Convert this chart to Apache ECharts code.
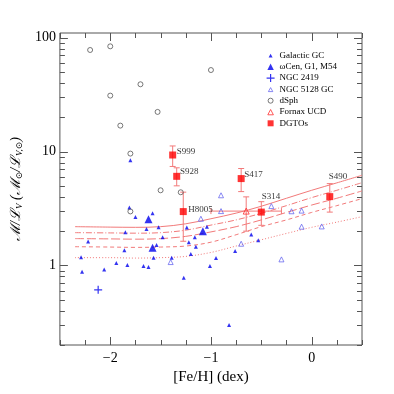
<!DOCTYPE html>
<html><head><meta charset="utf-8">
<script src="https://cdn.jsdelivr.net/npm/echarts@6/dist/echarts.min.js"></script>
<style>html,body{margin:0;padding:0;background:#fff}#c{width:394px;height:394px}</style>
</head><body><div id="c"></div>
<script>
// ---- data ----
const galacticGC = [[-1.80,8.4],[-1.81,3.22],[-1.75,2.66],[-1.58,2.87],[-1.85,1.96],[-1.64,2.09],[-1.52,2.16],[-1.48,1.77],
  [-2.22,1.62],[-1.86,1.36],[-1.54,1.51],[-2.29,1.18],[-1.57,1.17],[-1.39,1.17],[-1.94,1.05],[-1.83,1.01],[-1.67,0.99],
  [-1.62,0.97],[-2.28,0.88],[-2.06,0.92],[-1.27,0.78],[-1.24,2.15],[-1.22,1.60],[-1.16,1.77],[-1.15,1.46],[-1.20,1.26],
  [-1.04,2.19],[-0.60,1.87],[-0.53,1.66],[-0.76,1.34],[-0.95,1.16],[-1.01,0.99],[-0.82,0.30]];
const omegaCenG1M54 = [[-1.62,2.54],[-1.58,1.43],[-1.08,2.0]];
const ngc2419 = [[-2.12,0.61]];
const ngc5128GC = [[-1.40,1.07],[-1.10,2.57],[-0.90,4.13],[-0.90,3.0],[-0.70,1.55],[-0.30,1.13],[-0.40,3.32],
  [-0.20,2.99],[-0.10,3.03],[-0.10,2.19],[0.10,2.2]];
const dSph = [[-2.20,78],[-2.0,84],[-1.0,52],[-1.70,39],[-2.0,31],[-1.53,22.3],[-1.90,16.9],[-1.80,9.6],[-1.50,4.57],[-1.30,4.39],[-1.80,2.98]];
// Fornax UCD: [FeH, M/L, M/L low, M/L high, FeH low, FeH high]
const fornaxUCD = [[-0.65,3.0,2.0,4.0,-1.0,-0.30]];
// DGTOs
const dgtoNames = ['S999','S928','H8005','S417','S314','S490'];
const dgtoFeH   = [-1.38,-1.34,-1.275,-0.70,-0.50,0.18];
const dgtoML    = [9.33,6.06,2.97,5.79,2.94,4.02];
const dgtoLow   = [7.4,5.0,1.63,4.45,2.25,2.94];
const dgtoHigh  = [11.2,7.2,4.4,7.1,3.63,5.23];
// model curves
const modelFeH = [-2.35,-2.0,-1.75,-1.5,-1.25,-1.0,-0.75,-0.5,-0.25,0,0.25,0.5];
const modelA = [2.19,2.17,2.16,2.19,2.32,2.57,2.88,3.31,3.89,4.57,5.31,6.19];
const modelB = [1.94,1.93,1.92,1.94,2.04,2.26,2.51,2.87,3.35,3.94,4.57,5.33];
const modelC = [1.72,1.71,1.70,1.72,1.80,1.97,2.19,2.51,2.92,3.39,3.89,4.51];
const modelD = [1.46,1.45,1.44,1.45,1.48,1.60,1.86,2.19,2.51,2.92,3.35,3.86];
const modelE = [1.17,1.17,1.16,1.17,1.20,1.30,1.48,1.68,1.91,2.16,2.40,2.68];
// axes
const xRange = [-2.5, 0.5];
const yRange = [0.2, 110];
const xTickLabels = [-2,-1,0];
const yTickLabels = [1,10,100];

// ---- styles ----
const SERIF = 'Liberation Serif, DejaVu Serif, serif';
const RED_LINE = '#f27a7a';
const labelOffset = {S999:[7.5,-4.4],S928:[6.9,-5.7],H8005:[8.5,-3],S417:[6.5,-5.3],S314:[3.9,-16.4],S490:[2.5,-20.6]};

const xMinorTicks = [];
for (let v = -2.5; v <= 0.5001; v += 0.25) xMinorTicks.push(+v.toFixed(2));
const yMinorTicks = [];
for (let e = -1; e <= 2; e++) for (let m = 1; m <= 9; m++) { const v = m*Math.pow(10,e); if (v >= yRange[0]-1e-9 && v <= yRange[1]) yMinorTicks.push(+v.toPrecision(3)); }

function zipModel(arr){ return modelFeH.map((x,i)=>[x,arr[i]]); }
const modelStyles = [
  {d:modelA, t:'solid'},{d:modelB, t:[6,2,1,2]},{d:modelC, t:[9,3]},{d:modelD, t:[4,3]},{d:modelE, t:[1,2]}
];

const chart = echarts.init(document.getElementById('c'), null, {renderer:'canvas'});
const series = [];
modelStyles.forEach((m,i)=>{
  series.push({type:'line', name:'model'+i, data:zipModel(m.d), showSymbol:false, smooth:0.35, silent:true,
    lineStyle:{color:RED_LINE, width:1, type:m.t}, z:1});
});
series.push({type:'scatter', name:'Galactic GC', data:galacticGC, symbol:'triangle', symbolSize:4,
  itemStyle:{color:'#0000ee'}, z:3});
series.push({type:'scatter', name:'ωCen, G1, M54', data:omegaCenG1M54, symbol:'triangle', symbolSize:8,
  itemStyle:{color:'#0000ee'}, z:3});
series.push({type:'scatter', name:'NGC 2419', data:ngc2419, symbol:'path://M0,5L10,5M5,0L5,10', symbolSize:8,
  itemStyle:{color:'rgba(0,0,0,0)', borderColor:'#0000ee', borderWidth:1.2}, z:3});
series.push({type:'scatter', name:'NGC 5128 GC', data:ngc5128GC, symbol:'triangle', symbolSize:5,
  itemStyle:{color:'rgba(0,0,0,0)', borderColor:'#5a5aee', borderWidth:0.9}, z:3});
series.push({type:'scatter', name:'dSph', data:dSph, symbol:'circle', symbolSize:5,
  itemStyle:{color:'rgba(0,0,0,0)', borderColor:'#444', borderWidth:0.9}, z:3});
// error bars
function errRender(params, api){
  const x = api.value(0), lo = api.value(2), hi = api.value(3);
  const p1 = api.coord([x, lo]), p2 = api.coord([x, hi]);
  const st = {stroke:RED_LINE, lineWidth:1};
  const ch = [
    {type:'line', shape:{x1:p1[0],y1:p1[1],x2:p2[0],y2:p2[1]}, style:st},
    {type:'line', shape:{x1:p1[0]-3,y1:p1[1],x2:p1[0]+3,y2:p1[1]}, style:st},
    {type:'line', shape:{x1:p2[0]-3,y1:p2[1],x2:p2[0]+3,y2:p2[1]}, style:st}
  ];
  if (api.value(4) !== undefined && !isNaN(api.value(4))) {
    const y = api.value(1);
    const q1 = api.coord([api.value(4), y]), q2 = api.coord([api.value(5), y]);
    ch.push({type:'line', shape:{x1:q1[0],y1:q1[1],x2:q2[0],y2:q2[1]}, style:st});
    ch.push({type:'line', shape:{x1:q1[0],y1:q1[1]-3,x2:q1[0],y2:q1[1]+3}, style:st});
    ch.push({type:'line', shape:{x1:q2[0],y1:q2[1]-3,x2:q2[0],y2:q2[1]+3}, style:st});
  }
  return {type:'group', children:ch};
}
series.push({type:'custom', name:'dgtoErr', data:dgtoFeH.map((x,i)=>[x,dgtoML[i],dgtoLow[i],dgtoHigh[i]]),
  renderItem:errRender, encode:{x:0,y:1}, silent:true, z:2});
series.push({type:'custom', name:'fornaxErr', data:fornaxUCD, renderItem:errRender,
  encode:{x:0,y:1}, dimensions:['x','y','lo','hi','xl','xh'], silent:true, z:2});
series.push({type:'scatter', name:'Fornax UCD', data:fornaxUCD.map(d=>[d[0],d[1]]), symbol:'triangle', symbolSize:6,
  itemStyle:{color:'rgba(255,255,255,0)', borderColor:'#ff3030', borderWidth:1}, z:4});
series.push({type:'scatter', name:'DGTOs', symbol:'rect', symbolSize:7, itemStyle:{color:'#ff0000'}, z:5,
  data:dgtoNames.map((n,i)=>({name:n, value:[dgtoFeH[i], dgtoML[i]],
    label:{show:true, position:labelOffset[n], formatter:'{b}', fontFamily:SERIF, fontSize:9, color:'#000'}}))});
// ticks on all four sides
series.push({type:'custom', name:'ticks', data:[[-1,1]], encode:{x:0,y:1}, silent:true, clip:false, z:10,
  renderItem:function(params, api){
    const bl = api.coord([xRange[0], yRange[0]]), tr = api.coord([xRange[1], yRange[1]]);
    const st = {stroke:'#555', lineWidth:1};
    const ch = [];
    xMinorTicks.forEach(v=>{
      const px = Math.round(api.coord([v, yRange[0]])[0]) + 0.5;
      const len = xTickLabels.indexOf(v) >= 0 ? 8 : 5;
      ch.push({type:'line', shape:{x1:px,y1:bl[1],x2:px,y2:bl[1]-len}, style:st});
      ch.push({type:'line', shape:{x1:px,y1:tr[1],x2:px,y2:tr[1]+len}, style:st});
    });
    yMinorTicks.forEach(v=>{
      const py = Math.round(api.coord([xRange[0], v])[1]) + 0.5;
      const len = yTickLabels.indexOf(v) >= 0 ? 8 : 5;
      ch.push({type:'line', shape:{x1:bl[0],y1:py,x2:bl[0]+len,y2:py}, style:st});
      ch.push({type:'line', shape:{x1:tr[0],y1:py,x2:tr[0]-len,y2:py}, style:st});
    });
    return {type:'group', children:ch};
  }});

const legendIcons = {
  'Galactic GC':{icon:'path://M0,0M8,8M2,6L4,2.2L6,6Z', itemStyle:{color:'#0000ee', borderWidth:0}},
  'ωCen, G1, M54':{icon:'path://M0,0M8,8M0.8,7.2L4,0.8L7.2,7.2Z', itemStyle:{color:'#0000ee', borderWidth:0}},
  'NGC 2419':{icon:'path://M0,4L8,4M4,0L4,8', itemStyle:{color:'rgba(0,0,0,0)', borderColor:'#0000ee', borderWidth:1.2}},
  'NGC 5128 GC':{icon:'path://M0,0M8,8M1.8,6.2L4,2.2L6.2,6.2Z', itemStyle:{color:'rgba(0,0,0,0)', borderColor:'#5a5aee', borderWidth:0.9}},
  'dSph':{icon:'path://M0,0M8,8M6.5,4A2.5,2.5,0,1,1,1.5,4A2.5,2.5,0,1,1,6.5,4Z', itemStyle:{color:'rgba(0,0,0,0)', borderColor:'#444', borderWidth:0.9}},
  'Fornax UCD':{icon:'path://M0,0M8,8M1.2,6.8L4,1.5L6.8,6.8Z', itemStyle:{color:'rgba(0,0,0,0)', borderColor:'#ff3030', borderWidth:1}},
  'DGTOs':{icon:'path://M0,0M8,8M1,1L7,1L7,7L1,7Z', itemStyle:{color:'#ff0000', borderWidth:0}}
};

chart.setOption({
  animation:false,
  backgroundColor:'#fff',
  grid:{left:48, top:33, right:32, bottom:49, show:true, borderColor:'#555', borderWidth:1, backgroundColor:'transparent'},
  legend:{orient:'vertical', left:261, top:45.5, itemWidth:8, itemHeight:8, itemGap:1.3,
    textStyle:{fontFamily:SERIF, fontSize:9, color:'#000', lineHeight:10},
    data:Object.keys(legendIcons).map(n=>Object.assign({name:n}, legendIcons[n]))},
  xAxis:{type:'value', min:xRange[0], max:xRange[1], interval:0.25,
    axisLine:{show:false}, axisTick:{show:false}, splitLine:{show:false},
    axisLabel:{fontFamily:SERIF, fontSize:14, color:'#000', margin:6,
      formatter:v=> xTickLabels.indexOf(v)>=0 ? (v<0 ? '\u2212'+Math.abs(v) : String(v)) : ''},
    name:'[Fe/H] (dex)', nameLocation:'middle', nameGap:22,
    nameTextStyle:{fontFamily:SERIF, fontSize:15, color:'#000'}},
  yAxis:{type:'log', logBase:10, min:yRange[0], max:yRange[1],
    axisLine:{show:false}, axisTick:{show:false}, splitLine:{show:false},
    axisLabel:{fontFamily:SERIF, fontSize:14, color:'#000', margin:4, showMinLabel:false, showMaxLabel:false,
      formatter:v=>{ const r = yTickLabels.find(t=>Math.abs(t-v)/t<1e-6); return r!==undefined ? String(r) : ''; }},
    name:'{m|ℳ/ℒ}{s|V}{m| (ℳ}{s|⊙}{m|/ℒ}{s|V,⊙}{m|)}', nameLocation:'middle', nameGap:21,
    nameTextStyle:{fontFamily:SERIF, color:'#000',
      rich:{m:{fontFamily:SERIF, fontSize:14, fontStyle:'italic', color:'#000', lineHeight:18},
            s:{fontFamily:SERIF, fontSize:9, fontStyle:'italic', color:'#000', padding:[7,0,0,0], lineHeight:18}}}},
  series:series
});
</script></body></html>
